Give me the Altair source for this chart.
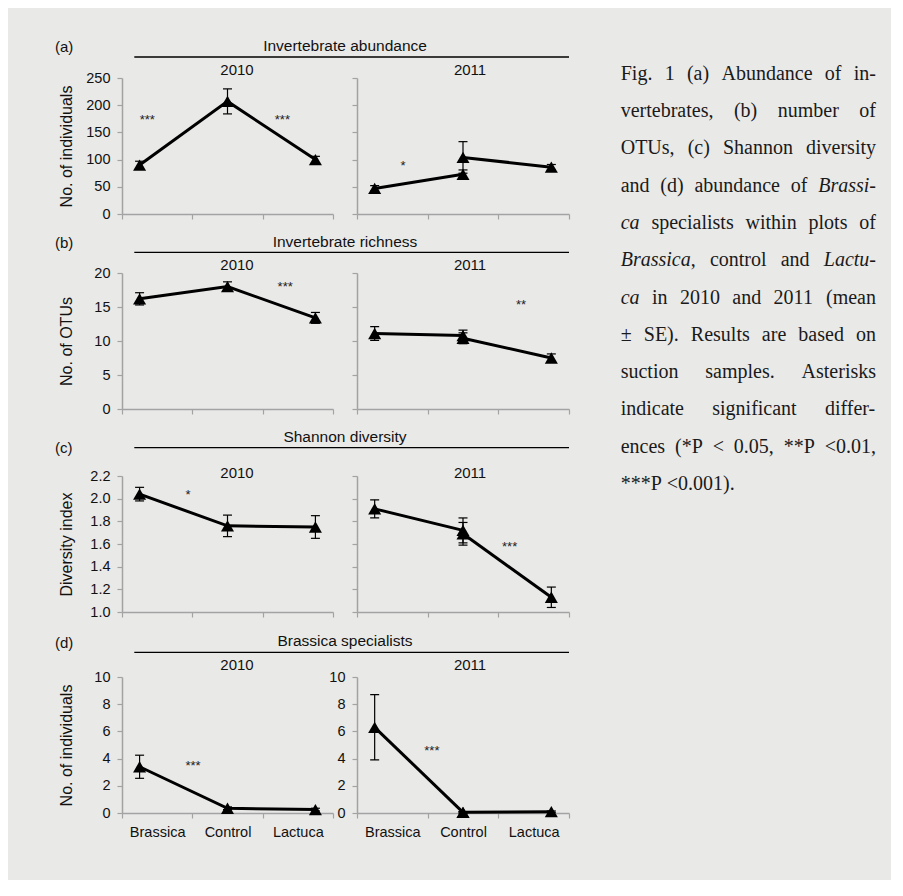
import altair as alt
import pandas as pd

# ---------------- data ----------------
CATS = ["Brassica", "Control", "Lactuca"]
YEARS = ["2010", "2011"]
ROW_TAGS = ["(a)", "(b)", "(c)", "(d)"]
ROW_TITLES = ["Invertebrate abundance", "Invertebrate richness",
              "Shannon diversity", "Brassica specialists"]
Y_TITLES = ["No. of individuals", "No. of OTUs", "Diversity index", "No. of individuals"]
Y_DOMAINS = [[0, 250], [0, 20], [1.0, 2.2], [0, 10]]
Y_TICKS = [[0, 50, 100, 150, 200, 250], [0, 5, 10, 15, 20],
           [1.0, 1.2, 1.4, 1.6, 1.8, 2.0, 2.2], [0, 2, 4, 6, 8, 10]]
Y_FORMATS = ["d", "d", ".1f", "d"]

# (a) invertebrate abundance
A10_MEAN = [90, 207, 100]
A10_SE = [7, 23, 6]
A11_BC_MEAN = [47, 73]        # Brassica vs control
A11_BC_SE = [5, 8]
A11_CL_MEAN = [104, 86]       # control vs Lactuca
A11_CL_SE = [29, 5]
A10_STAR_TXT = ["***", "***"]
A10_STAR_X = [0.36, 2.28]
A10_STAR_Y = [177, 177]
A11_STAR_TXT = ["*"]
A11_STAR_X = [0.65]
A11_STAR_Y = [92]

# (b) invertebrate richness
B10_MEAN = [16.2, 18.0, 13.4]
B10_SE = [0.9, 0.7, 0.8]
B11_BC_MEAN = [11.1, 10.8]
B11_BC_SE = [1.0, 0.8]
B11_CL_MEAN = [10.4, 7.5]
B11_CL_SE = [0.8, 0.6]
B10_STAR_TXT = ["***"]
B10_STAR_X = [2.32]
B10_STAR_Y = [18.2]
B11_STAR_TXT = ["**"]
B11_STAR_X = [2.32]
B11_STAR_Y = [15.6]

# (c) Shannon diversity
C10_MEAN = [2.04, 1.76, 1.75]
C10_SE = [0.06, 0.095, 0.10]
C11_BC_MEAN = [1.91, 1.72]
C11_BC_SE = [0.08, 0.11]
C11_CL_MEAN = [1.69, 1.13]
C11_CL_SE = [0.10, 0.09]
C10_STAR_TXT = ["*"]
C10_STAR_X = [0.94]
C10_STAR_Y = [2.05]
C11_STAR_TXT = ["***"]
C11_STAR_X = [2.16]
C11_STAR_Y = [1.59]

# (d) Brassica specialists
D10_MEAN = [3.4, 0.35, 0.25]
D10_SE = [0.85, 0.1, 0.1]
D11_BC_MEAN = [6.3, 0.05]
D11_BC_SE = [2.4, 0.05]
D11_CL_MEAN = [0.05, 0.1]
D11_CL_SE = [0.05, 0.05]
D10_STAR_TXT = ["***"]
D10_STAR_X = [1.01]
D10_STAR_Y = [3.6]
D11_STAR_TXT = ["***"]
D11_STAR_X = [1.06]
D11_STAR_Y = [4.7]

CAPTION = [
    "Fig. 1 (a) Abundance of in-",
    "vertebrates, (b) number of",
    "OTUs, (c) Shannon diversity",
    "and (d) abundance of _Brassi-_",
    "_ca_ specialists within plots of",
    "_Brassica_, control and _Lactu-_",
    "_ca_ in 2010 and 2011 (mean",
    "\u00b1 SE). Results are based on",
    "suction samples. Asterisks",
    "indicate significant differ-",
    "ences (*P < 0.05, **P <0.01,",
    "***P <0.001).",
]

# ---------------- layout / style ----------------
BG = "#e9e9e8"
GRAY = "#a3a3a3"
FONT = "Liberation Sans"
SERIF = "Liberation Serif"
W_L, W_R, GAP, H = 211, 212, 24, 136
HDR_W = W_L + GAP + W_R
HDR_H = [70, 59, 67, 65]
HDR_LINE = [49, 38.3, 38.7, 40.3]
HDR_TITLE = [38.4, 27.7, 28, 28.7]
HDR_TAG = [39.4, 28.7, 39.3, 31.3]
HDR_YEAR = [61.7, 51, 64.3, 53]
POS = {"Brassica": 0.25, "Control": 1.5, "Lactuca": 2.75}

one = pd.DataFrame({"k": [0]})


def panel(series, stars, row, right, bottom):
    width = W_R if right else W_L
    recs = []
    for sid, (cats, means, ses) in enumerate(series):
        for c, m, s in zip(cats, means, ses):
            recs.append({"s": sid, "px": POS[c], "m": m, "lo": m - s, "hi": m + s})
    df = pd.DataFrame(recs)
    st = pd.DataFrame({"t": stars[0], "px": stars[1], "m": stars[2]})

    xs = alt.Scale(domain=[0, 3], nice=False, zero=False)
    ys = alt.Scale(domain=Y_DOMAINS[row], nice=False, zero=False)
    expr = " : ".join(f"datum.value == {i} ? '{c}'" for i, c in enumerate(CATS)) + " : ''"
    xaxis = alt.Axis(values=[0, 1, 2, 3], grid=False, tickSize=5, domainColor=GRAY,
                     tickColor=GRAY, domainWidth=1.5, tickWidth=1.2, labels=bottom,
                     labelExpr=expr, labelOffset=width / 6.0, labelFlush=False,
                     labelOverlap=False, labelFontSize=14.5, labelPadding=7)
    show_lab = (not right) or bottom
    yaxis = alt.Axis(values=Y_TICKS[row], format=Y_FORMATS[row], grid=False, tickSize=5,
                     domainColor=GRAY, tickColor=GRAY, domainWidth=1.5, tickWidth=1.2,
                     labels=show_lab, labelFontSize=14.5, labelPadding=7,
                     titleFontSize=16, titleFontWeight="normal", titleX=-48)
    ytitle = "" if right else Y_TITLES[row]

    X = alt.X("px:Q", scale=xs, axis=xaxis, title="")

    def Y(f):
        return alt.Y(f, scale=ys, axis=yaxis, title=ytitle)

    base = alt.Chart(df)
    line = base.mark_line(color="black", strokeWidth=3).encode(
        x=X, y=Y("m:Q"), detail="s:N")
    err = base.mark_rule(color="black", strokeWidth=1.2).encode(
        x=X, y=Y("lo:Q"), y2="hi:Q")
    cap_lo = base.mark_tick(orient="horizontal", size=9, thickness=1.2, color="black",
                            opacity=1).encode(x=X, y=Y("lo:Q"))
    cap_hi = base.mark_tick(orient="horizontal", size=9, thickness=1.2, color="black",
                            opacity=1).encode(x=X, y=Y("hi:Q"))
    tri = base.mark_point(shape="triangle-up", filled=True, size=170, color="black",
                          opacity=1).encode(x=X, y=Y("m:Q"))
    txt = alt.Chart(st).mark_text(fontSize=13, baseline="alphabetic", dy=6,
                                  color="#222").encode(x=X, y=Y("m:Q"), text="t:N")
    return alt.layer(line, err, cap_lo, cap_hi, tri, txt).properties(width=width, height=H)


def caption_table():
    widths = {" ": 250, "(": 333, ")": 333, "*": 500, ",": 250, "-": 333, ".": 250,
              "<": 564, "\u00b1": 549, "A": 722, "B": 667, "C": 667, "D": 722, "E": 611,
              "F": 556, "L": 611, "O": 722, "P": 556, "R": 667, "S": 556, "T": 611,
              "U": 722, "a": 444, "b": 500, "c": 444, "d": 500, "e": 444, "f": 333,
              "g": 500, "h": 500, "i": 278, "k": 500, "l": 278, "m": 778, "n": 500,
              "o": 500, "p": 500, "r": 333, "s": 389, "t": 278, "u": 500, "v": 500,
              "w": 722, "y": 500}
    ital = {"a": 500, "r": 389, "f": 278, "B": 611, "L": 556}
    fs = 20.0
    x0, x1 = 498.7, 754.0
    recs = []
    for li, line in enumerate(CAPTION):
        words = []
        it = False
        for w in line.split(" "):
            segs, cur = [], ""
            for ch in w:
                if ch == "_":
                    if cur:
                        segs.append((cur, it))
                    cur = ""
                    it = not it
                else:
                    cur += ch
            if cur:
                segs.append((cur, it))
            words.append(segs)

        def wlen(segs):
            tot = 0
            for s, i in segs:
                for ch in s:
                    tot += (ital.get(ch, widths.get(ch, 500)) if i else widths.get(ch, 500))
            return tot * fs / 1000.0

        lens = [wlen(w) for w in words]
        if li == len(CAPTION) - 1:
            gap = 250 * fs / 1000.0
        else:
            gap = (x1 - x0 - sum(lens)) / max(1, len(words) - 1)
        x = x0
        for w, L in zip(words, lens):
            sx = x
            for s, i in w:
                recs.append({"x": sx, "y": 65.7 + 37.3 * li, "t": s,
                             "it": "italic" if i else "normal"})
                sx += wlen([(s, i)])
            x += L + gap
    return pd.DataFrame(recs)


def header(r):
    b = alt.Chart(one)
    layers = []
    if r == 0:
        # two tiny corner marks in the background colour fix the page extent
        layers.append(b.mark_rect(color=BG).encode(
            x=alt.value(-114), x2=alt.value(-113), y=alt.value(0), y2=alt.value(1)))
        layers.append(b.mark_rect(color=BG).encode(
            x=alt.value(768), x2=alt.value(769), y=alt.value(871), y2=alt.value(872)))
        cap = caption_table()
        for style in ["normal", "italic"]:
            layers.append(alt.Chart(cap[cap.it == style]).mark_text(
                font=SERIF, fontSize=20, fontStyle=style, align="left", baseline="middle",
                color="#1a1a1a").encode(
                x=alt.X("x:Q", scale=None, axis=None), y=alt.Y("y:Q", scale=None, axis=None),
                text="t:N"))
    layers.append(b.mark_rule(color="black", strokeWidth=1.3).encode(
        x=alt.value(12.3), x2=alt.value(HDR_W), y=alt.value(HDR_LINE[r])))
    layers.append(b.mark_text(fontSize=15.5, align="center", baseline="middle", color="#111").encode(
        x=alt.value(223), y=alt.value(HDR_TITLE[r]), text=alt.value(ROW_TITLES[r])))
    layers.append(b.mark_text(fontSize=15, align="left", baseline="middle", color="#111").encode(
        x=alt.value(-67), y=alt.value(HDR_TAG[r]), text=alt.value(ROW_TAGS[r])))
    for yr, xv in zip(YEARS, [115, 348]):
        layers.append(b.mark_text(fontSize=15, align="center", baseline="middle", color="#111").encode(
            x=alt.value(xv), y=alt.value(HDR_YEAR[r]), text=alt.value(yr)))
    return alt.layer(*layers).properties(width=W_L, height=HDR_H[r])


def blank(r):
    return alt.Chart(one).mark_text(text="", fontSize=1).encode(
        x=alt.value(W_R / 2), y=alt.value(HDR_H[r] / 2)).properties(width=W_R, height=HDR_H[r])


PANELS = [
    ([(CATS, A10_MEAN, A10_SE)], (A10_STAR_TXT, A10_STAR_X, A10_STAR_Y),
     [(CATS[:2], A11_BC_MEAN, A11_BC_SE), (CATS[1:], A11_CL_MEAN, A11_CL_SE)],
     (A11_STAR_TXT, A11_STAR_X, A11_STAR_Y)),
    ([(CATS, B10_MEAN, B10_SE)], (B10_STAR_TXT, B10_STAR_X, B10_STAR_Y),
     [(CATS[:2], B11_BC_MEAN, B11_BC_SE), (CATS[1:], B11_CL_MEAN, B11_CL_SE)],
     (B11_STAR_TXT, B11_STAR_X, B11_STAR_Y)),
    ([(CATS, C10_MEAN, C10_SE)], (C10_STAR_TXT, C10_STAR_X, C10_STAR_Y),
     [(CATS[:2], C11_BC_MEAN, C11_BC_SE), (CATS[1:], C11_CL_MEAN, C11_CL_SE)],
     (C11_STAR_TXT, C11_STAR_X, C11_STAR_Y)),
    ([(CATS, D10_MEAN, D10_SE)], (D10_STAR_TXT, D10_STAR_X, D10_STAR_Y),
     [(CATS[:2], D11_BC_MEAN, D11_BC_SE), (CATS[1:], D11_CL_MEAN, D11_CL_SE)],
     (D11_STAR_TXT, D11_STAR_X, D11_STAR_Y)),
]

cells = []
for r, (s10, st10, s11, st11) in enumerate(PANELS):
    bottom = r == 3
    cells += [header(r), blank(r),
              panel(s10, st10, r, False, bottom), panel(s11, st11, r, True, bottom)]

chart = alt.concat(*cells, columns=2, spacing=alt.RowColnumber(row=0, column=GAP),
                   bounds="flush", align="each").properties(padding=0).configure(
    background=BG
).configure_view(strokeWidth=0).configure_axis(
    labelFont=FONT, titleFont=FONT, labelColor="#111", titleColor="#111"
).configure_text(font=FONT)

chart.save("out.html", embed_options={"renderer": "svg", "actions": False})
